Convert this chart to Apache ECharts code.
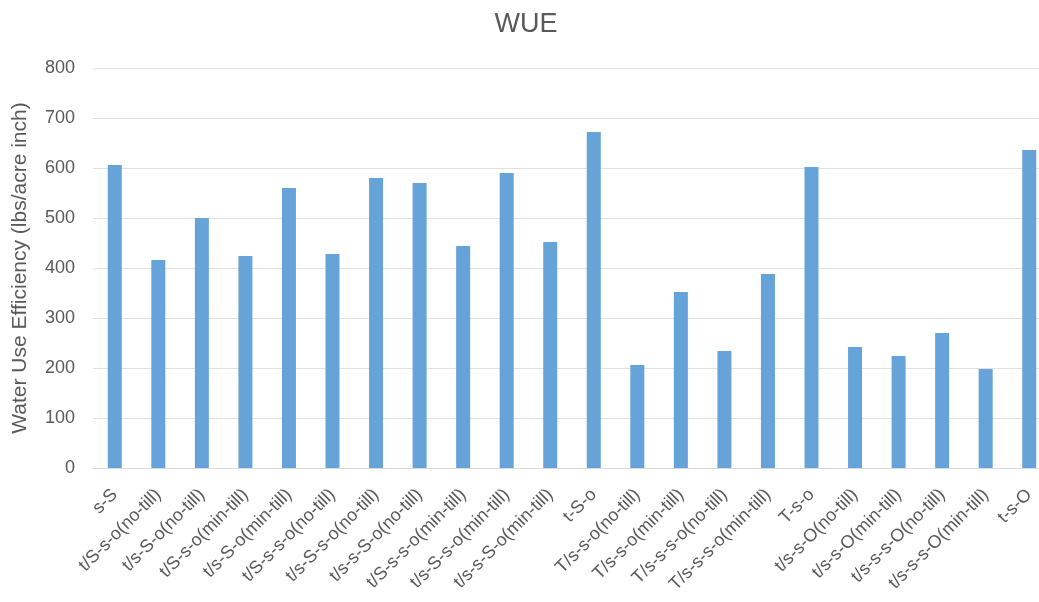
<!DOCTYPE html>
<html>
<head>
    <meta charset="utf-8" />
    <title>WUE</title>
    <style>
        html, body { margin: 0; padding: 0; background: #fff; overflow: hidden; }
        /* plot runs past the right edge in the original, so the box is a bit wider than the window */
        #chart { width: 1052px; height: 602px; }
    </style>
</head>
<body>
    <div id="chart"></div>
    <script src="https://cdn.jsdelivr.net/npm/echarts@6/dist/echarts.min.js"></script>
    <script>
        // categories (x axis)
        var categories = [
            's-S',
            't/S-s-o(no-till)',
            't/s-S-o(no-till)',
            't/S-s-o(min-till)',
            't/s-S-o(min-till)',
            't/S-s-s-o(no-till)',
            't/s-S-s-o(no-till)',
            't/s-s-S-o(no-till)',
            't/S-s-s-o(min-till)',
            't/s-S-s-o(min-till)',
            't/s-s-S-o(min-till)',
            't-S-o',
            'T/s-s-o(no-till)',
            'T/s-s-o(min-till)',
            'T/s-s-s-o(no-till)',
            'T/s-s-s-o(min-till)',
            'T-s-o',
            't/s-s-O(no-till)',
            't/s-s-O(min-till)',
            't/s-s-s-O(no-till)',
            't/s-s-s-O(min-till)',
            't-s-O'
        ];
        // water use efficiency values
        var wueValues = [606, 416, 500, 424, 560, 428, 580, 570, 444, 590, 452,
                         672, 206, 352, 234, 388, 602, 242, 224, 270, 198, 636];

        var textColor = '#595959';
        var fontFam = '"Liberation Sans", Arial, sans-serif';

        var myChart = echarts.init(document.getElementById('chart'));
        var option = {
            backgroundColor: '#fff',
            animation: false,
            title: {
                text: 'WUE',
                left: 'center',
                top: 6,
                textStyle: { color: textColor, fontSize: 27, fontWeight: 'normal', fontFamily: fontFam }
            },
            grid: { left: 93, right: 1, top: 68, bottom: 134, outerBoundsMode: 'none' },
            xAxis: {
                type: 'category',
                data: categories,
                axisLine: { lineStyle: { color: '#d9d9d9' } },
                axisTick: { show: false },
                axisLabel: {
                    interval: 0,
                    rotate: 45,
                    margin: 24,
                    color: textColor,
                    fontSize: 18,
                    fontFamily: fontFam
                }
            },
            yAxis: {
                type: 'value',
                min: 0,
                max: 800,
                interval: 100,
                name: 'Water Use Efficiency (lbs/acre inch)',
                nameLocation: 'middle',
                nameGap: 62,
                nameTextStyle: { color: textColor, fontSize: 21, fontFamily: fontFam },
                axisLine: { show: false },
                axisTick: { show: false },
                axisLabel: { color: textColor, fontSize: 18, margin: 18, fontFamily: fontFam },
                splitLine: { lineStyle: { color: '#e0e0e0' } }
            },
            series: [{
                type: 'bar',
                data: wueValues,
                barWidth: 14,
                itemStyle: { color: '#66A3D9' }
            }]
        };
        myChart.setOption(option);
    </script>
</body>
</html>
